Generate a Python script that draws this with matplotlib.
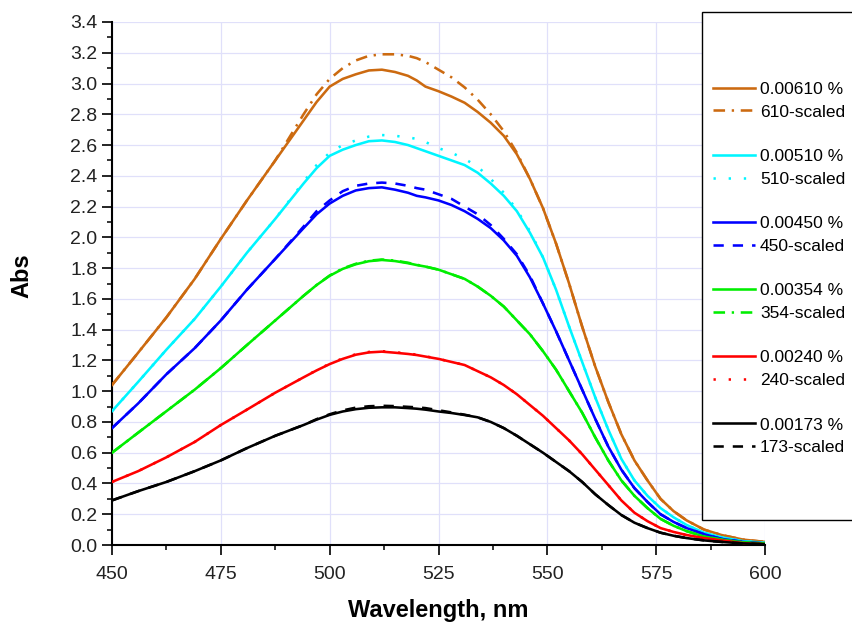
import matplotlib
matplotlib.use("Agg")
import matplotlib.pyplot as plt
from matplotlib.lines import Line2D
from matplotlib.patches import Rectangle
from matplotlib.ticker import MultipleLocator

plt.rcParams['font.family'] = ['Liberation Sans', 'DejaVu Sans']

# ---------------- data ----------------
wavelength = [450, 456, 462.5, 469, 475, 481, 487.5, 494, 497, 500, 503, 506, 509, 512, 515, 518,
              520, 522, 525, 528, 531, 534, 537, 540, 543, 546, 549, 552, 555, 558, 561, 564,
              567, 570, 573, 576, 579, 582, 586, 590, 595, 600]

abs_610 = [1.04, 1.25, 1.48, 1.73, 1.99, 2.24, 2.50, 2.76, 2.88, 2.98, 3.03, 3.06, 3.085, 3.09, 3.075, 3.05,
           3.02, 2.98, 2.95, 2.915, 2.875, 2.815, 2.745, 2.66, 2.54, 2.38, 2.19, 1.96, 1.70, 1.42, 1.16, 0.93,
           0.72, 0.55, 0.42, 0.30, 0.22, 0.16, 0.10, 0.065, 0.035, 0.02]
abs_610s = [1.04, 1.25, 1.48, 1.73, 1.99, 2.24, 2.50, 2.80, 2.93, 3.03, 3.10, 3.15, 3.18, 3.19, 3.19, 3.18,
            3.165, 3.14, 3.09, 3.04, 2.975, 2.895, 2.80, 2.69, 2.55, 2.38, 2.19, 1.96, 1.70, 1.42, 1.16, 0.93,
            0.72, 0.55, 0.42, 0.30, 0.22, 0.16, 0.10, 0.065, 0.035, 0.02]

abs_510 = [0.87, 1.06, 1.27, 1.47, 1.68, 1.90, 2.12, 2.35, 2.45, 2.53, 2.57, 2.60, 2.625, 2.63, 2.62, 2.60,
           2.58, 2.56, 2.53, 2.50, 2.47, 2.42, 2.35, 2.27, 2.17, 2.03, 1.87, 1.66, 1.42, 1.19, 0.96, 0.75,
           0.56, 0.42, 0.32, 0.24, 0.18, 0.13, 0.08, 0.05, 0.025, 0.015]
abs_510s = [0.87, 1.06, 1.27, 1.47, 1.68, 1.90, 2.12, 2.36, 2.47, 2.55, 2.60, 2.63, 2.655, 2.665, 2.66, 2.65,
            2.64, 2.62, 2.58, 2.55, 2.51, 2.46, 2.38, 2.29, 2.18, 2.04, 1.87, 1.66, 1.42, 1.19, 0.96, 0.75,
            0.56, 0.42, 0.32, 0.24, 0.18, 0.13, 0.08, 0.05, 0.025, 0.015]

abs_450 = [0.76, 0.92, 1.11, 1.28, 1.46, 1.66, 1.86, 2.06, 2.15, 2.22, 2.27, 2.305, 2.32, 2.325, 2.31, 2.29,
           2.27, 2.26, 2.24, 2.21, 2.17, 2.12, 2.06, 1.98, 1.88, 1.74, 1.57, 1.39, 1.20, 1.01, 0.82, 0.64,
           0.49, 0.37, 0.28, 0.20, 0.15, 0.11, 0.07, 0.04, 0.02, 0.01]
abs_450s = [0.76, 0.92, 1.11, 1.28, 1.46, 1.66, 1.86, 2.07, 2.17, 2.24, 2.30, 2.335, 2.35, 2.356, 2.35, 2.335,
            2.32, 2.31, 2.28, 2.25, 2.20, 2.15, 2.08, 1.99, 1.89, 1.75, 1.57, 1.39, 1.20, 1.01, 0.82, 0.64,
            0.49, 0.37, 0.28, 0.20, 0.15, 0.11, 0.07, 0.04, 0.02, 0.01]

abs_354 = [0.60, 0.73, 0.87, 1.01, 1.15, 1.30, 1.46, 1.62, 1.69, 1.75, 1.795, 1.825, 1.845, 1.853, 1.846, 1.832,
           1.82, 1.81, 1.79, 1.76, 1.73, 1.68, 1.62, 1.55, 1.46, 1.37, 1.26, 1.14, 1.00, 0.86, 0.70, 0.55,
           0.42, 0.32, 0.24, 0.17, 0.125, 0.09, 0.055, 0.035, 0.017, 0.01]
abs_354s = [0.60, 0.73, 0.87, 1.01, 1.15, 1.30, 1.46, 1.62, 1.69, 1.752, 1.798, 1.828, 1.848, 1.856, 1.849, 1.835,
            1.822, 1.81, 1.79, 1.76, 1.73, 1.68, 1.62, 1.55, 1.46, 1.37, 1.26, 1.14, 1.00, 0.86, 0.70, 0.55,
            0.42, 0.32, 0.24, 0.17, 0.125, 0.09, 0.055, 0.035, 0.017, 0.01]

abs_240 = [0.41, 0.48, 0.57, 0.67, 0.78, 0.88, 0.99, 1.09, 1.135, 1.176, 1.21, 1.237, 1.252, 1.257, 1.25, 1.242,
           1.235, 1.225, 1.21, 1.19, 1.17, 1.13, 1.09, 1.04, 0.98, 0.91, 0.84, 0.76, 0.68, 0.59, 0.49, 0.39,
           0.29, 0.21, 0.155, 0.11, 0.085, 0.065, 0.045, 0.03, 0.012, 0.005]
abs_240s = [0.41, 0.48, 0.57, 0.67, 0.78, 0.88, 0.99, 1.09, 1.137, 1.178, 1.213, 1.24, 1.255, 1.26, 1.253, 1.245,
            1.237, 1.227, 1.21, 1.19, 1.17, 1.13, 1.09, 1.04, 0.98, 0.91, 0.84, 0.76, 0.68, 0.59, 0.49, 0.39,
            0.29, 0.21, 0.155, 0.11, 0.085, 0.065, 0.045, 0.03, 0.012, 0.005]

abs_173 = [0.29, 0.35, 0.41, 0.48, 0.55, 0.63, 0.71, 0.78, 0.815, 0.846, 0.868, 0.883, 0.892, 0.895, 0.895, 0.89,
           0.886, 0.88, 0.868, 0.858, 0.845, 0.83, 0.80, 0.76, 0.71, 0.655, 0.60, 0.54, 0.48, 0.41, 0.33, 0.26,
           0.195, 0.145, 0.11, 0.08, 0.06, 0.045, 0.03, 0.02, 0.01, 0.005]
abs_173s = [0.29, 0.35, 0.41, 0.48, 0.55, 0.63, 0.71, 0.78, 0.818, 0.85, 0.875, 0.893, 0.902, 0.905, 0.903, 0.898,
            0.895, 0.89, 0.876, 0.862, 0.847, 0.83, 0.80, 0.76, 0.71, 0.655, 0.60, 0.54, 0.48, 0.41, 0.33, 0.26,
            0.195, 0.145, 0.11, 0.08, 0.06, 0.045, 0.03, 0.02, 0.01, 0.005]

labels = ['0.00610 %', '610-scaled', '0.00510 %', '510-scaled', '0.00450 %', '450-scaled',
          '0.00354 %', '354-scaled', '0.00240 %', '240-scaled', '0.00173 %', '173-scaled']

x_ticks = [450, 475, 500, 525, 550, 575, 600]
y_ticks = [0.0, 0.2, 0.4, 0.6, 0.8, 1.0, 1.2, 1.4, 1.6, 1.8, 2.0, 2.2, 2.4, 2.6, 2.8, 3.0, 3.2, 3.4]

# ---------------- styling ----------------
c_orange = '#CC6A10'
c_cyan = '#00F5FF'
c_blue = '#0000FF'
c_green = '#00EE00'
c_red = '#FF0000'
c_black = '#000000'

dashdot = (0, (4.5, 2.6, 0.9, 2.6))
dotted = (0, (0.9, 5))
dashed = (0, (4, 3.5))

series = [
    (abs_610, c_orange, '-'), (abs_610s, c_orange, dashdot),
    (abs_510, c_cyan, '-'), (abs_510s, c_cyan, dotted),
    (abs_450, c_blue, '-'), (abs_450s, c_blue, dashed),
    (abs_354, c_green, '-'), (abs_354s, c_green, dashdot),
    (abs_240, c_red, '-'), (abs_240s, c_red, dotted),
    (abs_173, c_black, '-'), (abs_173s, c_black, dashed),
]

W, H = 853, 623
fig = plt.figure(figsize=(W / 100, H / 100), dpi=100)
ax = fig.add_axes([112 / W, 1 - 545 / H, (765 - 112) / W, (545 - 22) / H])

lw = 1.85
handles = []
for (vals, col, ls), lab in zip(series, labels):
    ln, = ax.plot(wavelength, vals, color=col, linestyle=ls, lw=lw, label=lab, zorder=3,
                  solid_joinstyle='round')
    handles.append(ln)

ax.set_xlim(450, 600)
ax.set_ylim(0, 3.4)
ax.set_xticks(x_ticks)
ax.set_yticks(y_ticks)
ax.set_yticklabels([f'{v:.1f}' for v in y_ticks])
ax.xaxis.set_minor_locator(MultipleLocator(12.5))
ax.yaxis.set_minor_locator(MultipleLocator(0.1))

for s in ['top', 'right']:
    ax.spines[s].set_visible(False)
for s in ['left', 'bottom']:
    ax.spines[s].set_linewidth(1.5)
    ax.spines[s].set_color('black')

ax.tick_params(which='major', direction='out', length=7, width=1.2, labelsize=14,
               labelcolor='#222222')
ax.tick_params(axis='y', which='major', pad=3.5)
ax.tick_params(axis='x', which='major', pad=8)
ax.tick_params(which='minor', direction='out', length=3.8, width=1.1)

ax.grid(True, which='major', color='#E0E0FA', lw=0.9, zorder=0)
ax.set_axisbelow(True)

ax.set_xlabel('Wavelength, nm', fontsize=17, fontweight='bold')
ax.set_ylabel('Abs', fontsize=17, fontweight='bold')
ax.xaxis.set_label_coords(0.499, -0.103)
ax.yaxis.set_label_coords(-0.12, 0.515)

# legend box (extends past right edge)
box = Rectangle((702 / W, 1 - 520 / H), 200 / W, (520 - 12) / H, transform=fig.transFigure,
                facecolor='white', edgecolor='black', lw=1.0, zorder=5, clip_on=False)
fig.patches.append(box)

blank = Line2D([], [], linestyle='none')
leg_handles, leg_labels = [], []
for i in range(6):
    leg_handles += [handles[2 * i], handles[2 * i + 1]]
    leg_labels += [labels[2 * i], labels[2 * i + 1]]
    if i < 5:
        leg_handles.append(blank)
        leg_labels.append(' ')

leg = fig.legend(leg_handles, leg_labels, loc='upper left',
                 bbox_to_anchor=(713 / W, 1 - 82 / H), bbox_transform=fig.transFigure,
                 frameon=False, fontsize=12.5, handlelength=2.4, handletextpad=0.3,
                 labelspacing=0.415, borderpad=0, borderaxespad=0)
leg.set_zorder(6)

fig.savefig('out.png', dpi=100, facecolor='white')
